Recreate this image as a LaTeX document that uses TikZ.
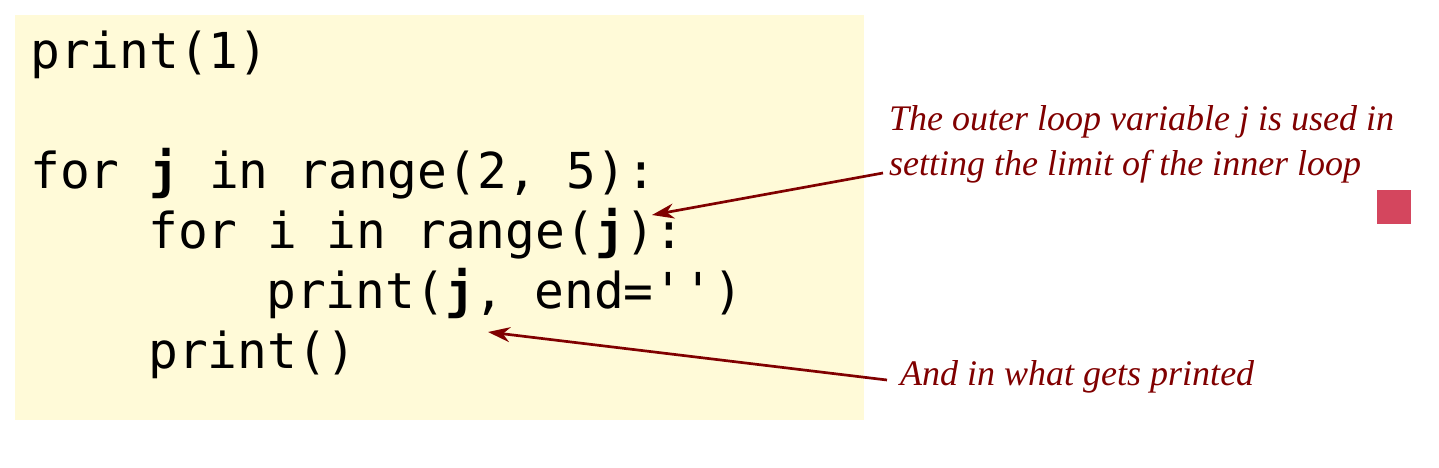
\documentclass[tikz,border=0pt]{standalone}
\usepackage{fontspec}
\newfontfamily\codefont[Ligatures=TeXOff]{DejaVu Sans Mono}
\newfontfamily\annfont{Liberation Serif}
\usetikzlibrary{arrows.meta}
\definecolor{codebg}{RGB}{255,250,216}
\definecolor{annred}{RGB}{128,0,0}
\definecolor{sqred}{RGB}{212,70,94}
\tikzset{
  codeline/.style={anchor=base west, inner sep=0pt, font=\codefont\fontsize{49.5}{60}\selectfont},
  annot/.style={anchor=base west, inner sep=0pt, text=annred, font=\annfont\itshape\fontsize{36}{45}\selectfont},
  arr/.style={draw=annred, line width=2.7pt, -{Stealth[length=22pt,width=15pt,inset=7pt]}}
}
\begin{document}
\begin{tikzpicture}[x=1pt,y=-1pt]
\useasboundingbox (0,0) rectangle (1439,467);
\fill[codebg] (15,15) rectangle (864,420);
\node[codeline] (l1) at (30,68) {print(1)};
\node[codeline] (l2) at (30,188) {for \textbf{j} in range(2, 5):};
\node[codeline] (l3) at (148,248) {for i in range(\textbf{j}):};
\node[codeline] (l4) at (266,308) {print(\textbf{j}, end='')};
\node[codeline] (l5) at (148,368) {print()};
\node[annot] (a1) at (889,130) {The outer loop variable j is used in};
\node[annot] (a2) at (889,175) {setting the limit of the inner loop};
\node[annot] (a3) at (900,385) {And in what gets printed};
\fill[sqred] (1377,190) rectangle (1411,224);
\coordinate (t1) at (652,215);
\coordinate (t2) at (488,332);
\draw[arr] ([xshift=-6pt,yshift=2pt]a2.base west) -- (t1);
\draw[arr] ([xshift=-13pt,yshift=5pt]a3.base west) -- (t2);
\end{tikzpicture}
\end{document}
